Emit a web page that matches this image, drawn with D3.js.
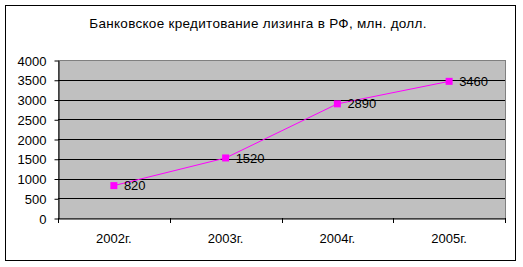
<!DOCTYPE html>
<html>
<head>
<meta charset="utf-8">
<script src="https://cdn.jsdelivr.net/npm/d3@7"></script>
<style>
body { margin: 0; background: #fff; }
text { font-family: "Liberation Sans", Arial, sans-serif; font-size: 13px; fill: #000; }
</style>
</head>
<body>
<svg width="523" height="267"></svg>
<script>
// data
var years = ["2002г.", "2003г.", "2004г.", "2005г."];
var values = [820, 1520, 2890, 3460];
var yTicks = [0, 500, 1000, 1500, 2000, 2500, 3000, 3500, 4000];
var title = "Банковское кредитование лизинга в РФ, млн. долл.";

var svg = d3.select("svg");
var pLeft = 58, pRight = 505, pTop = 60, pBottom = 218;

// outer frame
svg.append("rect")
    .attr("x", 5.5).attr("y", 5.5)
    .attr("width", 510).attr("height", 255)
    .attr("fill", "#fff").attr("stroke", "#000");

svg.append("text")
    .attr("x", 258).attr("y", 28)
    .attr("text-anchor", "middle")
    .style("font-size", "13.5px")
    .style("letter-spacing", "0.3px")
    .text(title);

var x = d3.scaleBand().domain(years).range([pLeft, pRight]);
var y = d3.scaleLinear().domain([0, 4000]).range([pBottom, pTop]);

// plot area
svg.append("rect")
    .attr("x", pLeft + 0.5).attr("y", pTop + 0.5)
    .attr("width", pRight - pLeft).attr("height", pBottom - pTop)
    .attr("fill", "#c0c0c0").attr("stroke", "#808080");

// gridlines
svg.selectAll(".grid")
    .data(yTicks.slice(1, -1))
    .enter().append("line")
    .attr("x1", pLeft).attr("x2", pRight)
    .attr("y1", function(d) { return Math.round(y(d)) + 0.5; })
    .attr("y2", function(d) { return Math.round(y(d)) + 0.5; })
    .attr("stroke", "#000");

var yAxis = svg.append("g")
    .attr("transform", "translate(" + (pLeft + 0.5) + ",0.5)")
    .call(d3.axisLeft(y).tickValues(yTicks).tickFormat(d3.format("d"))
        .tickSize(4).tickPadding(8).tickSizeOuter(0));
yAxis.select(".domain").attr("stroke", "#000");
yAxis.selectAll("text").style("font-size", "13px").style("font-family", null).attr("dy", "0.35em");

var xAxis = svg.append("g")
    .attr("transform", "translate(0," + (pBottom + 0.5) + ")")
    .call(d3.axisBottom(x).tickSize(0).tickPadding(15));
xAxis.select(".domain").attr("stroke", "#000");
xAxis.selectAll("text").style("font-size", "13px").style("font-family", null);

// category boundary ticks
svg.selectAll(".ctick")
    .data(years.concat([null]))
    .enter().append("line")
    .attr("x1", function(d, i) { return Math.round(pLeft + i * x.bandwidth()) + 0.5; })
    .attr("x2", function(d, i) { return Math.round(pLeft + i * x.bandwidth()) + 0.5; })
    .attr("y1", pBottom).attr("y2", pBottom + 5)
    .attr("stroke", "#000");

var cx = function(d, i) { return x(years[i]) + x.bandwidth() / 2; };

svg.append("path")
    .datum(values)
    .attr("fill", "none")
    .attr("stroke", "#ff00ff")
    .attr("stroke-width", 1)
    .attr("d", d3.line().x(cx).y(function(d) { return y(d); }));

svg.selectAll(".mk")
    .data(values)
    .enter().append("rect")
    .attr("x", function(d, i) { return cx(d, i) - 3.5; })
    .attr("y", function(d) { return y(d) - 3.5; })
    .attr("width", 7).attr("height", 7)
    .attr("fill", "#ff00ff");

svg.selectAll(".lbl")
    .data(values)
    .enter().append("text")
    .attr("x", function(d, i) { return cx(d, i) + 10; })
    .attr("y", function(d) { return y(d); })
    .attr("dy", "0.35em")
    .text(function(d) { return d; });
</script>
</body>
</html>
